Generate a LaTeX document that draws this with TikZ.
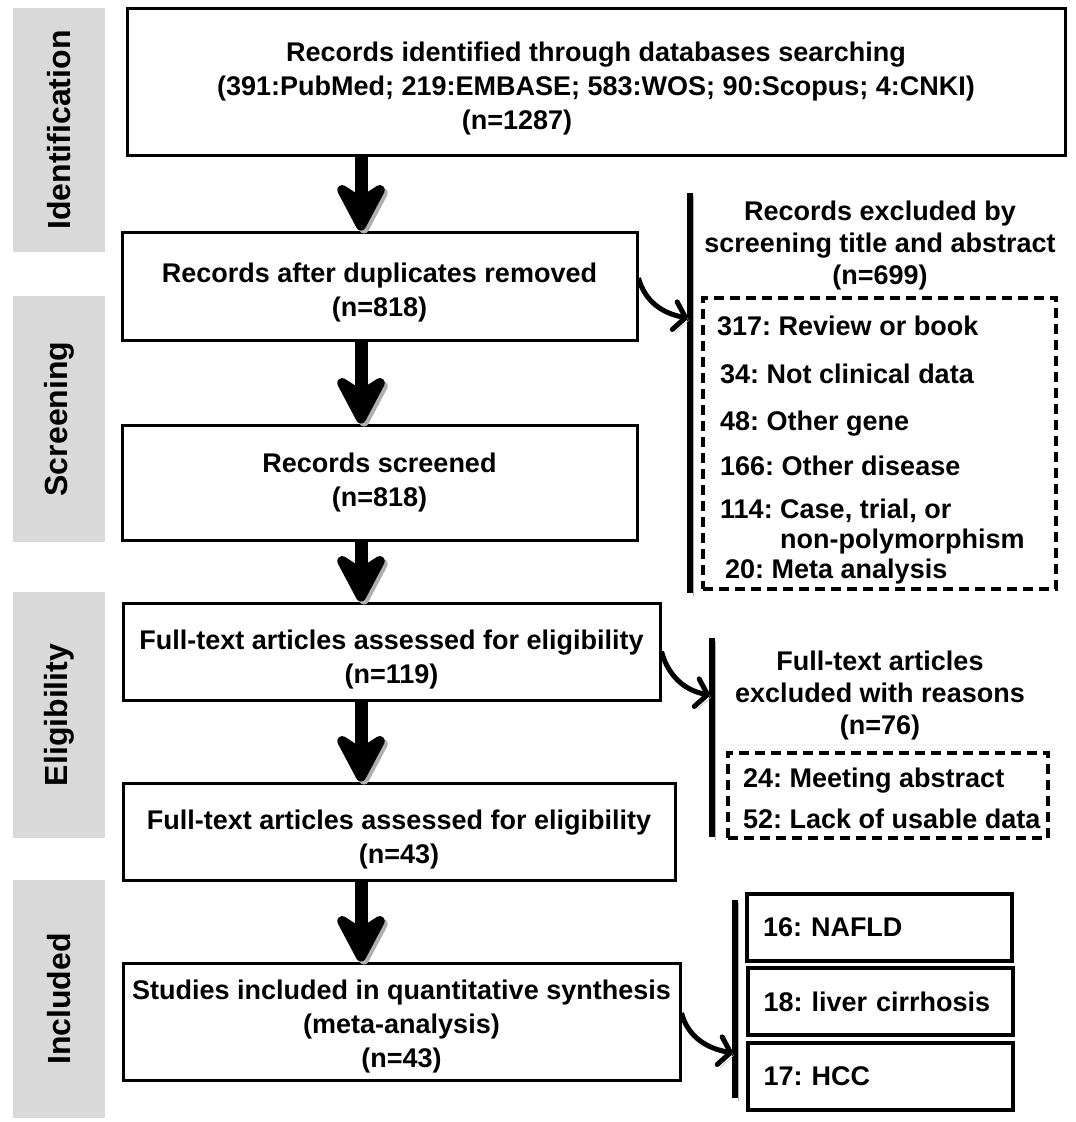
\documentclass[tikz,border=0pt]{standalone}
\usepackage{fontspec}
\setmainfont{Liberation Sans}
\usepackage{tikz}
\usetikzlibrary{arrows.meta, positioning}
\definecolor{phasecolor}{RGB}{217, 217, 217}
\definecolor{shadecolor}{RGB}{175, 175, 175}
\newcommand{\flowfont}{\fontsize{27}{34}\selectfont\bfseries}
\newcommand{\headfont}{\fontsize{27}{32}\selectfont\bfseries}
\newcommand{\sidefont}{\fontsize{32}{38}\selectfont\bfseries}
\newcommand{\lift}[1]{\rule{0pt}{#1}}
\frenchspacing

\begin{document}
\begin{tikzpicture}[
    x=1pt, y=1pt,
    phase/.style={fill=phasecolor, rotate=90, font=\sidefont, inner sep=0pt},
    stage/.style={draw, line width=3pt, font=\flowfont, align=center, inner sep=4pt},
    shadowed/.style={preaction={draw=shadecolor, transform canvas={shift={(3pt,-3pt)}}}},
    flowarrow/.style={line width=13pt, -{Stealth[length=60pt, width=63pt, inset=20pt, round]}, shadowed},
    sidearrow/.style={line width=5pt, -{Straight Barb[length=11pt, width=28pt, round]}, shadowed},
    bar/.style={line width=6pt, shadowed},
    dashbox/.style={draw, line width=3.5pt, dash pattern=on 10pt off 6pt},
    exhead/.style={font=\headfont, align=center, inner sep=0pt},
    item/.style={font=\flowfont, anchor=base west, inner sep=0pt},
    subbox/.style={draw, line width=4pt, font=\flowfont, align=left, text width=233pt, inner xsep=16pt, minimum width=265pt, minimum height=67pt},
]
    \useasboundingbox (0,0) rectangle (1076,-1122);

    % Phase labels
    \node[phase, minimum width=244pt, minimum height=92pt] (idphase) at (59,-130) {Identification};
    \node[phase, minimum width=246pt, minimum height=92pt] (scphase) at (59,-419) {Screening};
    \node[phase, minimum width=246pt, minimum height=92pt] (elphase) at (59,-715) {Eligibility};
    \node[phase, minimum width=238pt, minimum height=92pt] (inphase) at (59,-999) {Included};

    % Main flow
    \node[stage, minimum width=938pt, minimum height=147pt] (found) at (596,-81.5)
        {\lift{34pt}Records identified through databases searching\\(391:PubMed; 219:EMBASE; 583:WOS; 90:Scopus; 4:CNKI)\\\hspace*{-158pt}(n=1287)};
    \node[stage, minimum width=515pt, minimum height=108pt] (dedup) at (379.5,-286)
        {\lift{32pt}Records after duplicates removed\\(n=818)};
    \node[stage, minimum width=515pt, minimum height=115pt] (screen) at (379.5,-482.5)
        {Records screened\\(n=818)};
    \node[stage, minimum width=537pt, minimum height=97pt] (elig) at (391.5,-651.5)
        {\lift{36pt}Full-text articles assessed for eligibility\\(n=119)};
    \node[stage, minimum width=552pt, minimum height=97pt] (eligb) at (399,-831.5)
        {\lift{36pt}Full-text articles assessed for eligibility\\(n=43)};
    \node[stage, minimum width=557pt, minimum height=117pt] (incl) at (401.5,-1021.5)
        {\lift{30pt}Studies included in quantitative synthesis\\(meta-analysis)\\(n=43)};

    % Down arrows
    \coordinate (spine) at (361,0);
    \draw[flowarrow] (found.south -| spine) -- (dedup.north -| spine);
    \draw[flowarrow] (dedup.south -| spine) -- (screen.north -| spine);
    \draw[flowarrow] (screen.south -| spine) -- (elig.north -| spine);
    \draw[flowarrow] (elig.south -| spine) -- (eligb.north -| spine);
    \draw[flowarrow] (eligb.south -| spine) -- (incl.north -| spine);

    % Side bars
    \coordinate (bar1top) at (690,-193);
    \coordinate (bar1bot) at (690,-593);
    \coordinate (bar2top) at (712,-638);
    \coordinate (bar2bot) at (712,-837);
    \coordinate (bar3top) at (735,-900);
    \coordinate (bar3bot) at (735,-1098);
    \draw[bar] (bar1top) -- (bar1bot);
    \draw[bar] (bar2top) -- (bar2bot);
    \draw[bar] (bar3top) -- (bar3bot);

    % Exclusions after screening
    \node[exhead] (exscreen) at (880,-246) {Records excluded by\\screening title and abstract\\(n=699)};
    \node[dashbox, minimum width=353pt, minimum height=291pt] (exscreenbox) at (879.5,-443.5) {};
    \node[item] (ex317) at (717,-335) {317: Review or book};
    \node[item] (ex34) at (720,-383) {34: Not clinical data};
    \node[item] (ex48) at (720,-430) {48: Other gene};
    \node[item] (ex166) at (720,-475) {166: Other disease};
    \node[item] (ex114) at (720,-518) {114: Case, trial, or};
    \node[item] (ex114b) at (780,-548) {non-polymorphism};
    \node[item] (ex20) at (725,-578) {20: Meta analysis};

    % Exclusions after full-text review
    \node[exhead] (exfull) at (880,-695.5) {Full-text articles\\excluded with reasons\\(n=76)};
    \node[dashbox, minimum width=320pt, minimum height=85pt] (exfullbox) at (888,-795.5) {};
    \node[item] (ex24) at (743,-787) {24: Meeting abstract};
    \node[item] (ex52) at (743,-828) {52: Lack of usable data};

    % Included subgroups
    \node[subbox] (nafld) at (879.5,-927.5) {16: NAFLD};
    \node[subbox] (cirr) at (880,-1001.5) {18: liver cirrhosis};
    \node[subbox] (hcc) at (880,-1076.5) {17: HCC};

    % Curved arrows to the bars
    \coordinate (bar1in) at (688,-318);
    \coordinate (bar2in) at (710,-695);
    \coordinate (bar3in) at (733,-1053);
    \draw[sidearrow] ([yshift=8pt]dedup.east) to[out=-75, in=170] (bar1in);
    \draw[sidearrow] (elig.east) to[out=-75, in=170] (bar2in);
    \draw[sidearrow] ([yshift=8.5pt]incl.east) to[out=-75, in=170] (bar3in);
\end{tikzpicture}
\end{document}
